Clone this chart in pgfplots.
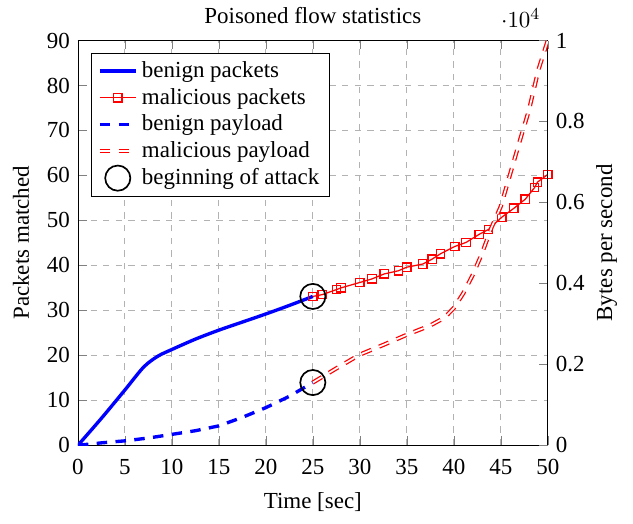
\documentclass[border={2.5pt 2pt 4pt 0pt},11pt]{standalone}
\usepackage{fontspec}
\setmainfont{Liberation Serif}
\usepackage{pgfplots}
\pgfplotsset{compat=1.18}
\begin{document}
\begin{tikzpicture}
\pgfplotsset{
  every axis/.append style={
    width=224pt, height=193pt, scale only axis,
    xmin=0, xmax=50, xtick={0,5,...,50},
    /pgf/number format/assume math mode=true,
  },
}
% left axis: packets
\begin{axis}[
    ymin=0, ymax=90, ytick={0,10,...,90},
    axis y line*=left,
    grid=major,
    grid style={dashed, gray!60},
    title={Poisoned flow statistics},
    title style={yshift=-2pt},
    xlabel={Time [sec]},
    ylabel={Packets matched},
    xticklabel style={yshift=-3pt},
    xlabel style={yshift=-1pt},
    ylabel style={yshift=1pt},
]
\addplot[blue, line width=1.6pt, smooth] coordinates {
  (0,0) (2.5,6) (5,12.3) (7,17.4) (8.5,19.8) (10,21.3) (12.5,23.6) (15,25.6) (17.5,27.4) (20,29.2) (22.5,31.1) (25,33.1)
};
\addplot[red, semithick, mark=square, mark options={solid}] coordinates {
  (25,33.1) (26,33.5) (27.5,34.6) (28,35) (30,36.2) (31.3,37) (32.6,38.1) (34.1,38.8) (35,39.6) (36.7,40.3) (37.7,41.4) (38.6,42.6) (40.1,44.2) (41.3,45.1) (42.7,46.9) (43.7,48) (45.1,50.7) (46.4,52.7) (47.6,54.7) (48.6,57.3) (48.9,58.5) (50,60.2)
};
\addplot[black, only marks, mark=o, mark size=6pt, thick] coordinates {(25,33.1)};
\end{axis}
% right axis: bytes
\begin{axis}[
    ymin=0, ymax=10000, ytick={0,2000,...,10000},
    scaled y ticks=base 10:-4,
    axis y line*=right,
    axis x line=none,
    ylabel={Bytes per second},
    ylabel style={yshift=2pt},
    legend style={at={(0.028,0.97)}, anchor=north west, draw=black, fill=white, row sep=-0.5pt},
    legend cell align=left,
]
\addlegendimage{blue, line width=1.6pt}
\addlegendentry{benign packets}
\addlegendimage{red, semithick, mark=square}
\addlegendentry{malicious packets}
\addplot[blue, line width=1.6pt, dash pattern=on 5pt off 4pt] coordinates {
  (0,0) (2.5,60) (5,110) (7.5,180) (10,270) (12.5,360) (15,480) (17.5,690) (20,930) (22.5,1210) (25,1550)
};
\addlegendentry{benign payload}
\addplot[red, double=white, double distance=0.8pt, semithick, dash pattern=on 5pt off 4pt] coordinates {
  (25,1550) (27.5,1900) (30,2240) (32.5,2480) (35,2730) (37.5,2960) (39,3150) (40,3390) (41,3750) (42,4200) (43,4740) (44,5370) (45,5900) (46,6700) (47,7500) (48,8280) (49,9270) (50,10000)
};
\addlegendentry{malicious payload}
\addplot[black, only marks, mark=o, mark size=6pt, thick] coordinates {(25,1550)};
\addlegendentry{beginning of attack}
\end{axis}
\end{tikzpicture}
\end{document}
